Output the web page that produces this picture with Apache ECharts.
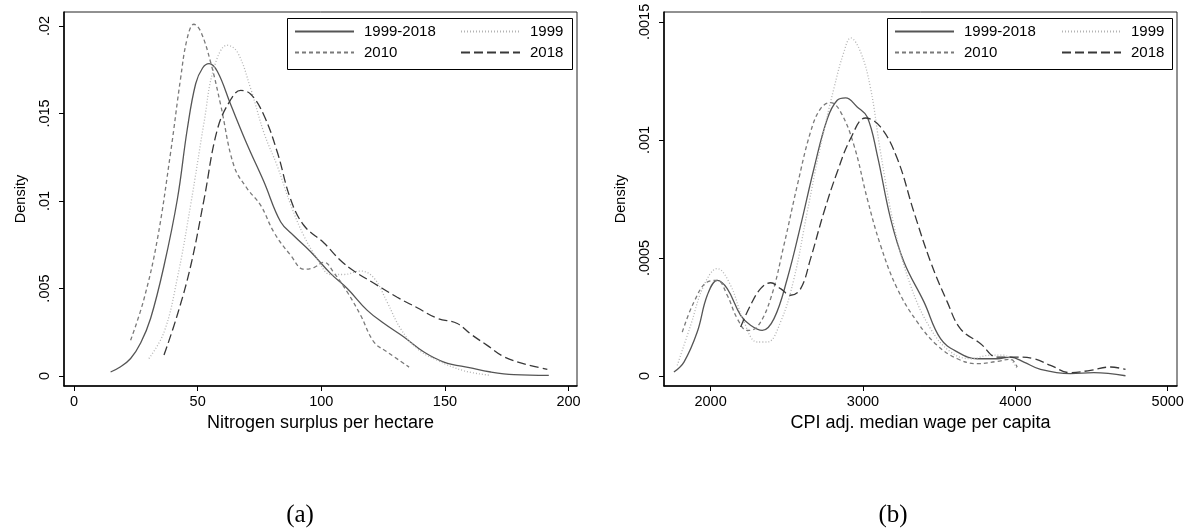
<!DOCTYPE html>
<html>
<head>
<meta charset="utf-8">
<script src="https://cdn.jsdelivr.net/npm/echarts@6/dist/echarts.min.js"></script>
<style>
  html, body { margin: 0; background: #fff; }
  #chart { width: 1188px; height: 531px; }
</style>
</head>
<body>
<div id="chart"></div>
<script>
// (a) nitrogen surplus per hectare -> density
var nitroAll = [[14.8,0.00023],[18.5,0.0005],[22.9,0.001],[27,0.0019],[31,0.0033],[36.4,0.0063],[41.8,0.0101],[45.8,0.0141],[49.2,0.0167],[52,0.0176],[54.6,0.01785],[58,0.0174],[63.4,0.0155],[70.1,0.0132],[76.8,0.0111],[83.6,0.0088],[89,0.0080],[95.7,0.0071],[103.8,0.00585],[110.5,0.0050],[118.6,0.00375],[125.4,0.0030],[133.4,0.00223],[141.5,0.00137],[149.6,0.0008],[160.4,0.00046],[168.5,0.00023],[177.9,0.00008],[192,0.00004]];
var nitro1999 = [[30.3,0.001],[36.4,0.0025],[41.8,0.0056],[47.2,0.0098],[52.6,0.0145],[56.6,0.0176],[62,0.0189],[66.1,0.0185],[71.5,0.0164],[76.8,0.0139],[82.2,0.0120],[87.6,0.0098],[93,0.0080],[98.4,0.0067],[103.8,0.0058],[109.2,0.0058],[115.9,0.0060],[121.3,0.0056],[126.7,0.0042],[132.1,0.0027],[138.8,0.00156],[146.9,0.0009],[157.7,0.0003],[168.5,0.00004]];
var nitro2010 = [[22.9,0.00204],[28.3,0.0044],[33.7,0.0078],[39.1,0.0128],[43.1,0.0170],[45.8,0.0193],[48.5,0.0201],[51.2,0.0197],[55.3,0.0179],[59.3,0.0155],[64.7,0.0120],[70.1,0.0107],[75.5,0.00975],[80.9,0.0082],[87.6,0.0069],[93,0.0061],[97,0.0062],[101.1,0.0065],[105.1,0.0059],[110.5,0.0048],[115.9,0.00347],[121.3,0.00194],[126.7,0.00137],[135.5,0.00051]];
var nitro2018 = [[36.4,0.0012],[41.8,0.0035],[47.2,0.0063],[52.6,0.0101],[58,0.0141],[63.4,0.0158],[67.4,0.01632],[71.5,0.0161],[76.8,0.0149],[82.2,0.0128],[87.6,0.0101],[93,0.0086],[101.1,0.0076],[107.8,0.0066],[113.2,0.0060],[121.3,0.0053],[130.7,0.0045],[138.8,0.0039],[146.9,0.0033],[155,0.0030],[160.4,0.0024],[167.1,0.00175],[173.9,0.0011],[182,0.0007],[191.4,0.00038]];

// (b) CPI adj. median wage per capita -> density
var wageAll = [[1759,0.000017],[1825,0.000059],[1912,0.000186],[1978,0.000342],[2044,0.000405],[2109,0.00037],[2197,0.000257],[2262,0.000215],[2339,0.000193],[2416,0.000243],[2503,0.000412],[2591,0.000638],[2678,0.000878],[2766,0.00109],[2831,0.001168],[2886,0.001178],[2962,0.00114],[3028,0.001097],[3094,0.000935],[3181,0.000667],[3269,0.000483],[3400,0.000314],[3509,0.000158],[3619,0.000102],[3750,0.000073],[3881,0.000073],[3969,0.00008],[4056,0.000059],[4165,0.000028],[4362,0.00001],[4515,0.000014],[4723,0.000001]];
var wage1999 = [[1781,0.000045],[1869,0.000215],[1956,0.000384],[2044,0.000455],[2131,0.000384],[2219,0.000229],[2306,0.000144],[2372,0.000144],[2459,0.000229],[2547,0.000412],[2634,0.000695],[2722,0.000977],[2809,0.001218],[2875,0.001373],[2919,0.001432],[2984,0.001373],[3050,0.001218],[3115,0.000949],[3203,0.000638],[3312,0.000384],[3444,0.0002],[3575,0.000102],[3706,0.000073],[3837,0.000088],[3925,0.000088],[4012,0.000031]];
var wage2010 = [[1814,0.000186],[1891,0.000314],[1978,0.000398],[2044,0.000405],[2109,0.000342],[2175,0.000243],[2241,0.000193],[2306,0.000208],[2394,0.000328],[2481,0.000554],[2569,0.000808],[2656,0.001034],[2722,0.001133],[2787,0.001158],[2853,0.001119],[2941,0.000977],[3028,0.000751],[3115,0.000554],[3225,0.00037],[3356,0.000229],[3487,0.00013],[3619,0.000073],[3750,0.000052],[3881,0.000062],[3969,0.000071],[4012,0.000038]];
var wage2018 = [[2197,0.000208],[2262,0.0003],[2328,0.00037],[2394,0.000395],[2459,0.00037],[2525,0.000342],[2591,0.00037],[2656,0.000497],[2744,0.000695],[2831,0.000864],[2919,0.001006],[3017,0.001093],[3115,0.001055],[3225,0.000921],[3334,0.000695],[3444,0.000483],[3553,0.000314],[3640,0.0002],[3772,0.000137],[3881,0.00008],[4012,0.00008],[4122,0.000073],[4231,0.000045],[4362,0.000014],[4493,0.000024],[4625,0.000038],[4723,0.000028]];

var nitroTicks = [0, 50, 100, 150, 200];
var nitroDensTicks = [0, 0.005, 0.01, 0.015, 0.02];
var wageTicks = [2000, 3000, 4000, 5000];
var wageDensTicks = [0, 0.0005, 0.001, 0.0015];

var FONT = "Liberation Sans, Arial, sans-serif";
var styles = {
  "1999-2018": { color: "#555", width: 1.3, type: "solid" },
  "1999": { color: "#b4b4b4", width: 1.3, type: [1, 2] },
  "2010": { color: "#7a7a7a", width: 1.3, type: [4, 3] },
  "2018": { color: "#383838", width: 1.3, type: [9, 4] }
};

function densLabel(v) {
  if (v === 0) return "0";
  return String(+v.toFixed(5)).replace(/^0\./, ".");
}

function xAxisFor(idx, min, max, ticks, name) {
  return {
    type: "value", gridIndex: idx, min: min, max: max,
    name: name, nameLocation: "middle", nameGap: 28,
    nameTextStyle: { fontFamily: FONT, fontSize: 18, color: "#000" },
    axisLine: { onZero: false, lineStyle: { color: "#000", width: 1.5 } },
    axisTick: { customValues: ticks, length: 5, lineStyle: { color: "#000" } },
    axisLabel: {
      customValues: ticks, margin: 8, fontFamily: FONT, fontSize: 14.5, color: "#000",
      formatter: function (v) { return String(v); }
    },
    splitLine: { show: false }
  };
}

function yAxisFor(idx, min, max, ticks) {
  return {
    type: "value", gridIndex: idx, min: min, max: max,
    name: "Density", nameLocation: "middle", nameGap: 36,
    nameTextStyle: { fontFamily: FONT, fontSize: 14.5, color: "#000" },
    axisLine: { onZero: false, lineStyle: { color: "#000", width: 1.5 } },
    axisTick: { customValues: ticks, length: 5, lineStyle: { color: "#000" } },
    axisLabel: {
      customValues: ticks, rotate: 90, margin: 12, fontFamily: FONT, fontSize: 14.5, color: "#000",
      formatter: densLabel
    },
    splitLine: { show: false }
  };
}

function lineSeries(name, idx, data) {
  var s = styles[name];
  return {
    name: name, type: "line", xAxisIndex: idx, yAxisIndex: idx,
    data: data, showSymbol: false, symbol: "none", smooth: 0.4,
    lineStyle: { color: s.color, width: s.width, type: s.type },
    itemStyle: { color: s.color },
    emphasis: { disabled: true }, animation: false
  };
}

function legendCol(left, names) {
  return {
    left: left, top: 24, orient: "vertical", padding: 0,
    itemWidth: 59, itemHeight: 15, itemGap: 6, selectedMode: false,
    itemStyle: { opacity: 0 },
    data: names,
    textStyle: { fontFamily: FONT, fontSize: 15, color: "#000", lineHeight: 15, padding: [0, 0, 0, 5] }
  };
}

var myChart = echarts.init(document.getElementById("chart"), null, { renderer: "canvas" });

var option = {
  backgroundColor: "#fff",
  animation: false,
  grid: [
    { left: 64, top: 12, width: 513, height: 374, show: true, borderColor: "#222", borderWidth: 1 },
    { left: 664, top: 12, width: 513, height: 374, show: true, borderColor: "#222", borderWidth: 1 }
  ],
  xAxis: [
    xAxisFor(0, -4.04, 203.4, nitroTicks, "Nitrogen surplus per hectare"),
    xAxisFor(1, 1694, 5061, wageTicks, "CPI adj. median wage per capita")
  ],
  yAxis: [
    yAxisFor(0, -0.00057, 0.0208, nitroDensTicks),
    yAxisFor(1, -0.0000424, 0.001542, wageDensTicks)
  ],
  legend: [
    legendCol(294, ["1999-2018", "2010"]),
    legendCol(460, ["1999", "2018"]),
    legendCol(894, ["1999-2018", "2010"]),
    legendCol(1061, ["1999", "2018"])
  ],
  graphic: [
    { type: "rect", shape: { x: 287.5, y: 18.5, width: 285, height: 51 }, style: { fill: null, stroke: "#000", lineWidth: 1 }, z: 10 },
    { type: "rect", shape: { x: 887.5, y: 18.5, width: 285, height: 51 }, style: { fill: null, stroke: "#000", lineWidth: 1 }, z: 10 },
    { type: "text", x: 300, y: 515, style: { text: "(a)", fontFamily: "Liberation Serif, serif", fontSize: 25, fill: "#000", textAlign: "center", textVerticalAlign: "middle" } },
    { type: "text", x: 893, y: 515, style: { text: "(b)", fontFamily: "Liberation Serif, serif", fontSize: 25, fill: "#000", textAlign: "center", textVerticalAlign: "middle" } }
  ],
  series: [
    lineSeries("1999-2018", 0, nitroAll),
    lineSeries("1999", 0, nitro1999),
    lineSeries("2010", 0, nitro2010),
    lineSeries("2018", 0, nitro2018),
    lineSeries("1999-2018", 1, wageAll),
    lineSeries("1999", 1, wage1999),
    lineSeries("2010", 1, wage2010),
    lineSeries("2018", 1, wage2018)
  ]
};

myChart.setOption(option);
</script>
</body>
</html>
